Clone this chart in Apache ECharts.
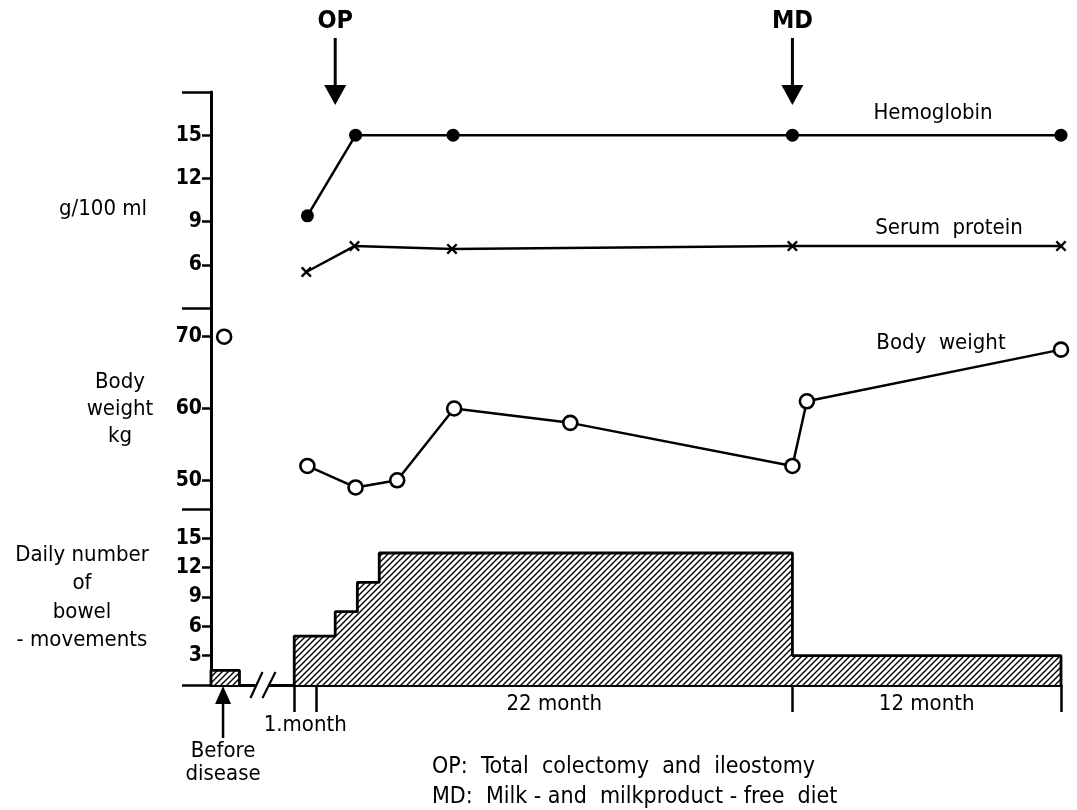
<!DOCTYPE html>
<html><head><meta charset="utf-8">
<script src="https://cdn.jsdelivr.net/npm/echarts@6/dist/echarts.min.js"></script>
<style>html,body{margin:0;padding:0;background:#fff}#c{width:1077px;height:810px}</style>
</head><body><div id="c"></div>
<script>
// Time axis in months (0 = start of the 1st month after disease onset; negatives = before disease)
const hemoglobinTime   = [0.6, 2.8, 7.25, 22.74, 35];
const hemoglobinValues = [9.4, 15, 15, 15, 15];
const serumProteinTime   = [0.55, 2.75, 7.2, 22.74, 35];
const serumProteinValues = [5.5, 7.3, 7.1, 7.3, 7.3];
const bodyWeightTime   = [0.6, 2.8, 4.7, 7.3, 12.6, 22.74, 23.4, 35];
const bodyWeightValues = [52, 49, 50, 60, 58, 52, 61, 68.2];
const beforeWeightTime   = [-3.2];
const beforeWeightValues = [70];
const bowelTime   = [0, 1.87, 2.88, 3.88, 22.74, 35];
const bowelValues = [5, 7.5, 10.5, 13.5, 3, 3];
const beforeBowelTime  = [-3.8, -2.5];
const beforeBowelValue = 1.5;
const opTime = 1.87, mdTime = 22.74, beforeTime = -3.25;
const hbTicks = [6, 9, 12, 15];
const bwTicks = [50, 60, 70];
const bmTicks = [3, 6, 9, 12, 15];
const monthTicks = [0, 1, 22.74, 35];
const periodLabels = ['1.month', '22 month', '12 month'];

const FONT = '"DejaVu Sans Condensed", "DejaVu Sans", sans-serif';
const periodCenters = [0, 1, 2].map(i => (monthTicks[i] + monthTicks[i + 1]) / 2);

function zip(xs, ys) { return xs.map((x, i) => [x, ys[i]]); }

function hatch() {
  const s = 12;
  const c = document.createElement('canvas'); c.width = s; c.height = s;
  const g = c.getContext('2d');
  g.fillStyle = '#fff'; g.fillRect(0, 0, s, s);
  g.strokeStyle = '#000'; g.lineWidth = 1.4;
  for (let k = 0; k <= 2 * s; k += 6) {
    g.beginPath(); g.moveTo(k - s - 1, s + 1); g.lineTo(k + 1, -1); g.stroke();
  }
  return { image: c, repeat: 'repeat' };
}
const pattern = hatch();

const xMin = -3.8, xMax = 35;
const grids = [
  { left: 211, right: 16, top: 92, height: 216 },
  { left: 211, right: 16, top: 308, height: 201 },
  { left: 211, right: 16, top: 509, height: 176 }
];
const tickLabel = { color: '#000', fontFamily: FONT, fontSize: 21, fontWeight: 'bold', margin: 9 };

function mainY(grid, min, max, ticks) {
  return {
    gridIndex: grid, type: 'value', min, max, position: 'left',
    axisLine: { show: true, onZero: false, lineStyle: { color: '#000', width: 3 } },
    axisTick: { show: true, customValues: ticks, length: 9, lineStyle: { color: '#000', width: 2.5 } },
    axisLabel: Object.assign({ customValues: ticks }, tickLabel),
    splitLine: { show: false }
  };
}
function longTickY(grid, min, max, ticks) {
  return {
    gridIndex: grid, type: 'value', min, max, position: 'left', offset: 0,
    axisLine: { show: false, onZero: false },
    axisTick: { show: true, customValues: ticks, length: 29, lineStyle: { color: '#000', width: 2.5 } },
    axisLabel: { show: false }, splitLine: { show: false }
  };
}

const xSymbol = 'path://M0,1.5 L1.5,0 L5,3.5 L8.5,0 L10,1.5 L6.5,5 L10,8.5 L8.5,10 L5,6.5 L1.5,10 L0,8.5 L3.5,5 Z';
const lineW = 2.5;

const option = {
  animation: false,
  backgroundColor: '#fff',
  grid: grids,
  xAxis: [
    { gridIndex: 0, type: 'value', min: xMin, max: xMax, show: false },
    { gridIndex: 1, type: 'value', min: xMin, max: xMax, show: false },
    {
      gridIndex: 2, type: 'value', min: xMin, max: xMax,
      axisLine: { show: true, lineStyle: { color: '#000', width: 3 } },
      axisTick: { show: true, customValues: monthTicks, length: 27, lineStyle: { color: '#000', width: 2.5 } },
      axisLabel: {
        customValues: periodCenters, color: '#000', fontFamily: FONT, fontSize: 22, margin: 8,
        formatter: v => {
          let best = 0;
          periodCenters.forEach((c, i) => { if (Math.abs(c - v) < Math.abs(periodCenters[best] - v)) best = i; });
          return best === 0 ? '{low|' + periodLabels[0] + '}' : periodLabels[best];
        },
        rich: { low: { fontFamily: FONT, fontSize: 22, color: '#000', padding: [21, 0, 0, 0] } }
      },
      splitLine: { show: false }
    }
  ],
  yAxis: [
    mainY(0, 3, 18, hbTicks), longTickY(0, 3, 18, [3, 18]),
    mainY(1, 46, 74, bwTicks), longTickY(1, 46, 74, [46]),
    mainY(2, 0, 18, bmTicks), longTickY(2, 0, 18, [0])
  ],
  series: [
    {
      name: 'Hemoglobin', type: 'line', xAxisIndex: 0, yAxisIndex: 0, clip: false,
      data: zip(hemoglobinTime, hemoglobinValues),
      symbol: 'circle', symbolSize: 13,
      itemStyle: { color: '#000' }, lineStyle: { color: '#000', width: lineW }
    },
    {
      name: 'Serum protein', type: 'line', xAxisIndex: 0, yAxisIndex: 0, clip: false,
      data: zip(serumProteinTime, serumProteinValues),
      symbol: xSymbol, symbolSize: 11,
      itemStyle: { color: '#000' }, lineStyle: { color: '#000', width: lineW }
    },
    {
      name: 'Body weight', type: 'line', xAxisIndex: 1, yAxisIndex: 2, clip: false,
      data: zip(bodyWeightTime, bodyWeightValues),
      symbol: 'circle', symbolSize: 14,
      itemStyle: { color: '#fff', borderColor: '#000', borderWidth: 2.6 },
      lineStyle: { color: '#000', width: lineW }
    },
    {
      name: 'Body weight before disease', type: 'scatter', xAxisIndex: 1, yAxisIndex: 2, clip: false,
      data: zip(beforeWeightTime, beforeWeightValues),
      symbol: 'circle', symbolSize: 14,
      itemStyle: { color: '#fff', borderColor: '#000', borderWidth: 2.6, opacity: 1 }
    },
    {
      name: 'Bowel movements', type: 'line', xAxisIndex: 2, yAxisIndex: 4, clip: false,
      step: 'end', symbol: 'none',
      data: [[bowelTime[0], 0]].concat(zip(bowelTime, bowelValues), [[bowelTime[bowelTime.length - 1], 0]]),
      lineStyle: { color: '#000', width: 2.8 },
      areaStyle: { color: pattern, opacity: 1 }
    },
    {
      name: 'Bowel movements before disease', type: 'line', xAxisIndex: 2, yAxisIndex: 4, clip: false,
      symbol: 'none',
      data: [[beforeBowelTime[0], 0], [beforeBowelTime[0], beforeBowelValue], [beforeBowelTime[1], beforeBowelValue], [beforeBowelTime[1], 0]],
      lineStyle: { color: '#000', width: 2.8 },
      areaStyle: { color: pattern, opacity: 1 }
    }
  ]
};

const chart = echarts.init(document.getElementById('c'), null, { renderer: 'canvas' });
chart.setOption(option);

const P = (g, x, y) => chart.convertToPixel({ gridIndex: g }, [x, y]);
const F = (size, bold) => (bold ? 'bold ' : '') + size + 'px ' + FONT;
const txt = (x, y, t, extra) => ({
  type: 'text', x, y, silent: true, z: 100,
  style: Object.assign({ text: t, fill: '#000', font: F(22), align: 'center', verticalAlign: 'middle' }, extra || {})
});
function downArrow(x, label) {
  return [
    txt(x, 21, label, { font: F(25, true) }),
    { type: 'line', silent: true, shape: { x1: x, y1: 38, x2: x, y2: 88 }, style: { stroke: '#000', lineWidth: 3 } },
    { type: 'polygon', silent: true, shape: { points: [[x - 11, 85], [x + 11, 85], [x, 105]] }, style: { fill: '#000' } }
  ];
}
const opX = P(0, opTime, 18)[0];
const mdX = P(0, mdTime, 18)[0];
const base = P(2, -2, 0);
const bx = P(2, beforeTime, 0)[0];
const brk = P(2, -1.45, 0)[0];

const graphics = [].concat(
  downArrow(opX, 'OP'),
  downArrow(mdX, 'MD'),
  [
    // axis break
    { type: 'rect', silent: true, z: 90, shape: { x: brk - 7, y: base[1] - 3, width: 13, height: 6 }, style: { fill: '#fff' } },
    { type: 'line', silent: true, z: 91, shape: { x1: brk - 12, y1: base[1] + 13, x2: brk, y2: base[1] - 13 }, style: { stroke: '#000', lineWidth: 2.2 } },
    { type: 'line', silent: true, z: 91, shape: { x1: brk, y1: base[1] + 13, x2: brk + 13, y2: base[1] - 13 }, style: { stroke: '#000', lineWidth: 2.2 } },
    // before disease arrow
    { type: 'line', silent: true, shape: { x1: bx, y1: 700, x2: bx, y2: 738 }, style: { stroke: '#000', lineWidth: 2.5 } },
    { type: 'polygon', silent: true, shape: { points: [[bx - 8, 704], [bx + 8, 704], [bx, base[1] + 1]] }, style: { fill: '#000' } },
    txt(bx, 763, 'Before\ndisease', { lineHeight: 23 }),
    // series labels
    txt(933, 113, 'Hemoglobin'),
    txt(949, 228, 'Serum  protein'),
    txt(941, 343, 'Body  weight'),
    // left titles
    txt(103, 209, 'g/100 ml'),
    txt(120, 409, 'Body\nweight\nkg', { lineHeight: 27 }),
    txt(82, 598, 'Daily number\nof\nbowel\n- movements', { lineHeight: 28.5 }),
    // footnotes
    txt(432, 767, 'OP:  Total  colectomy  and  ileostomy', { align: 'left', font: F(23) }),
    txt(432, 797, 'MD:  Milk - and  milkproduct - free  diet', { align: 'left', font: F(23) })
  ]
);
chart.setOption({ graphic: { elements: graphics } });
</script>
</body></html>
